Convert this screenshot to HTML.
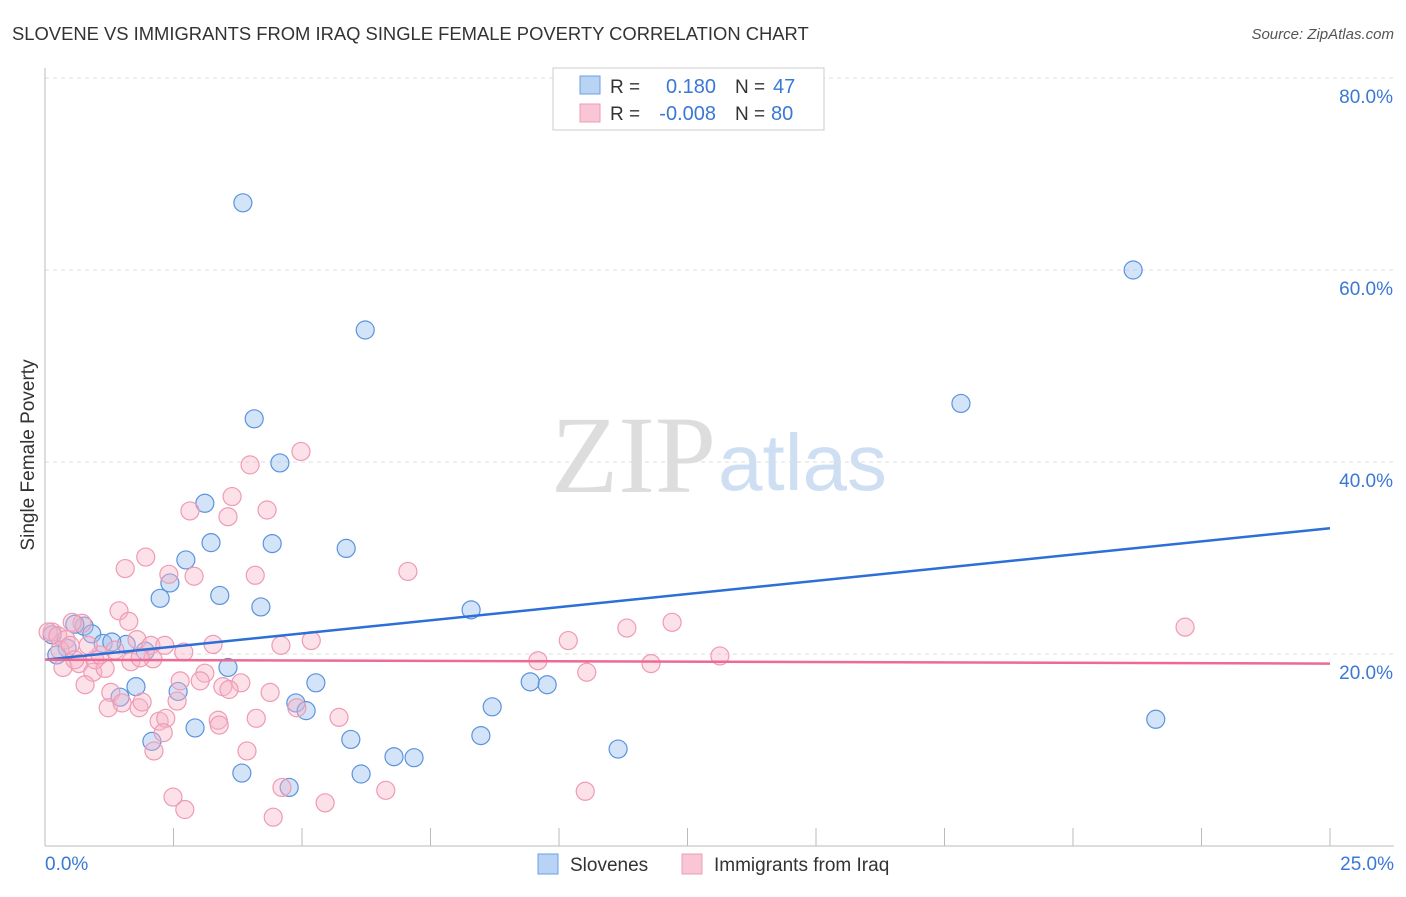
<!DOCTYPE html>
<html><head><meta charset="utf-8"><style>
body{margin:0;background:#fff;font-family:"Liberation Sans",sans-serif;}
svg text{font-family:"Liberation Sans",sans-serif;}
</style></head><body>
<svg id="c" width="1406" height="892">
<text x="12" y="40" font-size="18.4" fill="#333">SLOVENE VS IMMIGRANTS FROM IRAQ SINGLE FEMALE POVERTY CORRELATION CHART</text>
<text x="1394" y="39" font-size="15" fill="#555" font-style="italic" text-anchor="end">Source: ZipAtlas.com</text>
<text x="34" y="455" font-size="19" fill="#333" transform="rotate(-90 34 455)" text-anchor="middle">Single Female Poverty</text>
<text x="716" y="492" font-size="110" fill="#ddd" text-anchor="end" font-family="Liberation Serif" style="font-family:'Liberation Serif',serif">ZIP</text>
<text x="718" y="490" font-size="80" fill="#cfdff3">atlas</text>
<g id="grid"></g><g id="pts"></g><g id="lines"></g>
<g>
<rect x="553" y="68" width="271" height="62" fill="#fff" stroke="#ccc"/>
<rect x="580" y="76" width="20" height="18" fill="#b9d3f5" stroke="#6b9fe0"/>
<rect x="580" y="104" width="20" height="18" fill="#f9c6d5" stroke="#ee9bb4"/>
<text x="610" y="93" font-size="19" fill="#333">R =</text><text x="716" y="93" font-size="20" fill="#3a78d4" text-anchor="end">0.180</text>
<text x="735" y="93" font-size="19" fill="#333">N =</text><text x="773" y="93" font-size="20" fill="#3a78d4">47</text>
<text x="610" y="120" font-size="19" fill="#333">R =</text><text x="716" y="120" font-size="20" fill="#3a78d4" text-anchor="end">-0.008</text>
<text x="735" y="120" font-size="19" fill="#333">N =</text><text x="771" y="120" font-size="20" fill="#3a78d4">80</text>
</g>
<g>
<rect x="538" y="854" width="20" height="20" fill="#b9d3f5" stroke="#6b9fe0"/>
<text x="570" y="871" font-size="19" fill="#333">Slovenes</text>
<rect x="682" y="854" width="20" height="20" fill="#f9c6d5" stroke="#ee9bb4"/>
<text x="714" y="871" font-size="19" fill="#333">Immigrants from Iraq</text>
</g>
</svg>
<script>
const blueX=[3.85,21.17,6.23,17.82,4.07,4.57,3.11,3.23,4.42,5.86,2.74,2.43,2.24,3.40,4.20,8.29,0.76,0.58,0.91,1.13,1.58,1.30,0.43,1.95,0.23,3.56,9.44,9.77,5.27,2.59,1.77,1.46,4.88,5.08,8.70,21.61,2.92,2.08,5.95,8.48,11.15,6.79,7.18,3.83,6.15,4.75,0.14];
const blueY=[67.0,60.0,53.75,46.1,44.5,39.9,35.7,31.6,31.5,31.0,29.8,27.4,25.8,26.1,24.9,24.6,22.9,23.1,22.1,21.1,21.0,21.25,20.6,20.3,19.9,18.6,17.1,16.8,17.0,16.1,16.6,15.5,14.9,14.1,14.5,13.2,12.3,10.9,11.1,11.5,10.1,9.3,9.2,7.6,7.5,6.1,22.0];
const pinkX=[4.98,7.06,10.18,11.32,12.20,13.13,9.59,10.54,11.79,22.18,6.63,10.51,2.82,3.64,3.56,4.32,1.56,1.96,2.41,2.90,4.09,1.44,1.63,0.72,0.14,3.27,2.70,4.59,5.18,1.79,2.06,0.66,0.93,1.17,1.67,2.10,0.35,0.78,1.28,1.23,1.50,1.83,1.89,2.63,3.11,3.02,2.57,3.46,3.81,3.58,4.38,2.22,2.35,2.30,3.37,3.39,4.11,4.90,2.12,3.93,2.49,2.72,4.61,4.44,5.45,5.72,0.06,0.25,0.41,0.53,0.97,1.07,0.29,0.49,0.84,1.36,0.58,1.85,2.33,3.99];
const pinkY=[41.1,28.6,21.4,22.7,23.3,19.8,19.3,18.1,19.0,22.8,5.8,5.7,34.9,36.4,34.3,35.0,28.9,30.1,28.3,28.1,28.2,24.5,23.4,23.2,22.3,21.0,20.2,20.9,21.4,21.5,20.9,19.0,18.1,18.5,19.2,19.5,18.6,16.8,16.0,14.4,14.9,14.4,15.0,17.2,18.0,17.2,15.1,16.6,17.0,16.3,16.0,13.0,13.3,11.8,13.1,12.6,13.3,14.4,9.9,9.9,5.1,3.8,6.1,3.0,4.5,13.4,22.3,21.9,21.5,23.3,19.4,19.9,20.4,20.9,20.9,20.4,19.4,19.6,20.9,39.7];
const yTicks=[20,40,60,80];
const xTickLabels=["0.0%","25.0%"];
const xDomain=[0,25];
const blueTrend=[19.4,33.1], pinkTrend=[19.4,19.0];
const NS="http://www.w3.org/2000/svg";
const X0=45,X1=1330,Y0=846,PPY=9.6;
function px(v){return X0+(v-xDomain[0])/(xDomain[1]-xDomain[0])*(X1-X0);}
function py(v){return Y0-v*PPY;}
function mk(t,a,p){const e=document.createElementNS(NS,t);for(const k in a)e.setAttribute(k,a[k]);p.appendChild(e);return e;}
const grid=document.getElementById('grid');
yTicks.forEach(t=>{
 const l=mk('line',{x1:45,x2:1394,y1:py(t),y2:py(t),stroke:'#ddd','stroke-dasharray':'4,4'},grid);
 
 
 const tx=mk('text',{x:1393,y:py(t)+25,'font-size':19,fill:'#3a78d4','text-anchor':'end'},grid);tx.textContent=t.toFixed(1)+'%';
 
 
});
const ax=mk('line',{x1:45,x2:45,y1:68,y2:846,stroke:'#bbb'},grid);


const bx=mk('line',{x1:45,x2:1394,y1:846,y2:846,stroke:'#bbb'},grid);


for(let i=0;i<=10;i++){const x=45+i*128.5;const t=mk('line',{x1:x,x2:x,y1:828,y2:846,stroke:'#bbb'},grid);
 
 }
[[45,'start',0],[1394,'end',1]].forEach(([x,a,i])=>{const t=mk('text',{x:x,y:870,'font-size':19,fill:'#3a78d4','text-anchor':a},grid);t.textContent=xTickLabels[i];
 
 });
const pts=document.getElementById('pts');
blueX.forEach((v,i)=>{const c=mk('circle',{cx:px(v),cy:py(blueY[i]),r:9,fill:'rgba(160,196,240,0.45)',stroke:'#5b93dc','stroke-width':1.2},pts);
 
 });
pinkX.forEach((v,i)=>{const c=mk('circle',{cx:px(v),cy:py(pinkY[i]),r:9,fill:'rgba(248,180,200,0.4)',stroke:'#ee9bb4','stroke-width':1.2},pts);
 
 });
const ln=document.getElementById('lines');
const b=mk('line',{x1:px(xDomain[0]),x2:px(xDomain[1]),y1:py(blueTrend[0]),y2:py(blueTrend[1]),stroke:'#2c6fd6','stroke-width':2.5},ln);


const p=mk('line',{x1:px(xDomain[0]),x2:px(xDomain[1]),y1:py(pinkTrend[0]),y2:py(pinkTrend[1]),stroke:'#ec6a94','stroke-width':2.5},ln);


</script>
</body></html>
